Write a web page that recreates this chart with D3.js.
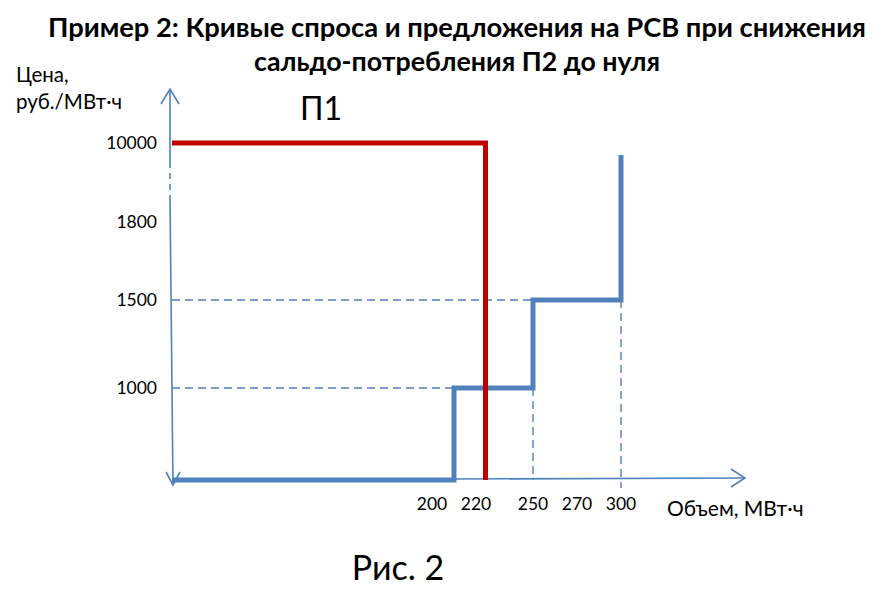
<!DOCTYPE html>
<html><head><meta charset="utf-8">
<script src="https://cdn.jsdelivr.net/npm/d3@7"></script>
<style>body{margin:0;background:#fff}svg{display:block}text{font-family:Lato,"Open Sans",sans-serif;fill:#000}</style>
</head><body><svg id="c" width="887" height="611"></svg>
<script>
// ---- data ----
const titleLines = ["Пример 2: Кривые спроса и предложения на РСВ при снижения", "сальдо-потребления П2 до нуля"];
const yLabelLines = ["Цена,", "руб./МВт·ч"];
const xLabel = "Объем, МВт·ч";
const caption = "Рис. 2";
const demandName = "П1";
const xTicks = [200, 220, 250, 270, 300];
const yTicks = [1000, 1500, 1800, 10000];
// supply (stepped) curve: volume, price
const supplyVolume = [0, 210, 210, 250, 250, 300, 300];
const supplyPrice  = [0, 0, 1000, 1000, 1500, 1500, 8750];
// demand curve П1
const demandVolume = [0, 225, 225];
const demandPrice  = [10000, 10000, 0];
// dashed guides
const guideH = [{price: 1500, vol: 250}, {price: 1000, vol: 210}];
const guideV = [{vol: 250, price: 1000}, {vol: 300, price: 1500}];

// ---- scales (schematic, non-uniform) ----
const x = d3.scaleLinear().domain([0, 200, 220, 250, 270, 300]).range([172, 432, 476, 533, 577, 621]);
const y = d3.scaleLinear().domain([0, 1000, 1500, 1800, 10000]).range([480, 388, 300, 222, 143]);

const svg = d3.select("#c");
const blue = "#4F81BD", red = "#C00000";

// title
svg.append("g").selectAll("text").data(titleLines).join("text")
  .attr("x", 457).attr("y", (d, i) => 37 + i * 34)
  .attr("text-anchor", "middle").attr("font-weight", "bold").attr("font-size", 26)
  .attr("textLength", (d, i) => i === 0 ? 818 : 406).attr("lengthAdjust", "spacingAndGlyphs")
  .text(d => d);

// y label
svg.append("g").selectAll("text").data(yLabelLines).join("text")
  .attr("x", 16).attr("y", (d, i) => 82 + i * 27).attr("font-size", 20.5).text(d => d);

// dashed guides
svg.append("g").selectAll("line").data(guideH).join("line")
  .attr("x1", x(0)).attr("x2", d => x(d.vol)).attr("y1", d => y(d.price)).attr("y2", d => y(d.price))
  .attr("stroke", blue).attr("stroke-width", 1.4).attr("stroke-dasharray", "8,5");
svg.append("g").selectAll("line").data(guideV).join("line")
  .attr("x1", d => x(d.vol)).attr("x2", d => x(d.vol)).attr("y1", d => y(d.price)).attr("y2", d => y(0) + (d.vol === 300 ? 8 : 0))
  .attr("stroke", blue).attr("stroke-width", 1.4).attr("stroke-dasharray", "8,5");

// axes
const ax = svg.append("g").attr("stroke", blue).attr("fill", "none").attr("stroke-width", 1.6);
const x0 = x(0), y0 = y(0);
// y axis with break
ax.append("line").attr("x1", x0 - 2).attr("x2", x0 - 2).attr("y1", 90).attr("y2", 162);
ax.append("line").attr("x1", x0 - 2).attr("x2", x0 - 2).attr("y1", 162).attr("y2", 198).attr("stroke-dasharray", "6,5");
ax.append("line").attr("x1", x0 - 2).attr("x2", x0 + 1).attr("y1", 198).attr("y2", y0 + 5);
ax.append("path").attr("d", `M${x0 - 11},${104} L${x0 - 2},${89} L${x0 + 7},${104}`);
ax.append("path").attr("d", `M${x0 - 6},${y0 - 8} L${x0 + 1},${y0 + 5} L${x0 + 8},${y0 - 8}`);
// x axis
ax.append("line").attr("x1", x0).attr("x2", 744).attr("y1", y0).attr("y2", y0 - 2);
ax.append("path").attr("d", `M${731},${y0 - 11} L${745},${y0 - 2} L${731},${y0 + 7}`);

// y tick labels
svg.append("g").selectAll("text").data(yTicks).join("text")
  .attr("x", 157).attr("y", d => y(d)).attr("dy", "0.35em").attr("text-anchor", "end")
  .attr("font-size", 17.5).text(d => d);
// x tick labels
svg.append("g").selectAll("text").data(xTicks).join("text")
  .attr("x", d => x(d)).attr("y", 510).attr("text-anchor", "middle")
  .attr("font-size", 17.5).text(d => d);

// supply curve
const line = d3.line().x(d => x(d[0])).y(d => y(d[1]));
svg.append("path").datum(supplyVolume.map((v, i) => [v, supplyPrice[i]]))
  .attr("d", line).attr("fill", "none").attr("stroke", blue).attr("stroke-width", 5);
// demand curve
svg.append("path").datum(demandVolume.map((v, i) => [v, demandPrice[i]]))
  .attr("d", line).attr("fill", "none").attr("stroke", red).attr("stroke-width", 5);

// labels
svg.append("text").attr("x", 300).attr("y", 120).attr("font-size", 32).text(demandName);
svg.append("text").attr("x", 667).attr("y", 516).attr("font-size", 21).text(xLabel);
svg.append("text").attr("x", 398).attr("y", 580).attr("text-anchor", "middle").attr("font-size", 34).text(caption);
</script></body></html>
